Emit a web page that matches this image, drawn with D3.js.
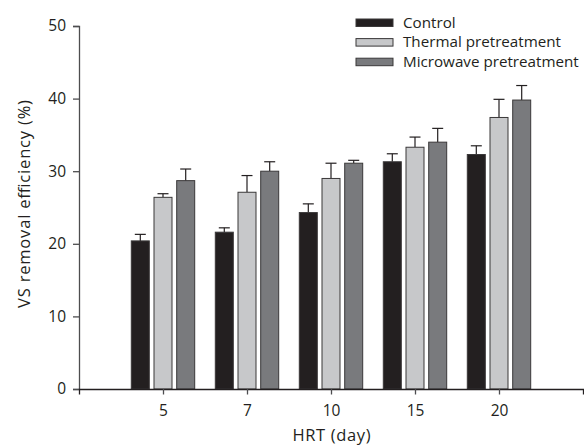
<!DOCTYPE html>
<html>
<head>
<meta charset="utf-8">
<script src="https://cdn.jsdelivr.net/npm/d3@7"></script>
<style>
  body { margin: 0; background: #fff; }
  svg text { font-family: "Open Sans", "Noto Sans", sans-serif; fill: #231f20; }
</style>
</head>
<body>
<svg id="chart" width="584" height="446"></svg>
<script>
// data
const hrt = ["5", "7", "10", "15", "20"];
const series = ["Control", "Thermal pretreatment", "Microwave pretreatment"];
const colors = ["#231f20", "#c7c8ca", "#797a7d"];
const control = [20.4, 21.6, 24.3, 31.3, 32.3];
const thermal = [26.4, 27.1, 29.0, 33.3, 37.4];
const microwave = [28.7, 30.0, 31.1, 34.0, 39.8];
const controlErr = [0.9, 0.6, 1.2, 1.1, 1.2];
const thermalErr = [0.5, 2.3, 2.1, 1.4, 2.5];
const microwaveErr = [1.6, 1.3, 0.4, 1.9, 2.0];
const yTicks = [0, 10, 20, 30, 40, 50];

const values = [control, thermal, microwave];
const errs = [controlErr, thermalErr, microwaveErr];

const svg = d3.select("#chart");
const mLeft = 79, mRight = 583, mTop = 26, mBottom = 389;

const x = d3.scalePoint().domain(hrt).range([mLeft, mRight]).padding(1);
const y = d3.scaleLinear().domain([0, 50]).range([mBottom, mTop]);
const off = d3.scalePoint().domain(series).range([-22.7, 22.7]);
const bw = 18;

// bars
series.forEach((s, si) => {
  const g = svg.append("g");
  const d = hrt.map((h, i) => ({ h, v: values[si][i], e: errs[si][i] }));
  // error bars (upper only)
  g.selectAll("line.err").data(d).enter().append("line")
    .attr("x1", d => x(d.h) + off(s)).attr("x2", d => x(d.h) + off(s))
    .attr("y1", d => y(d.v)).attr("y2", d => y(d.v + d.e))
    .attr("stroke", "#231f20").attr("stroke-width", 1.2);
  g.selectAll("line.cap").data(d).enter().append("line")
    .attr("x1", d => x(d.h) + off(s) - 5.5).attr("x2", d => x(d.h) + off(s) + 5.5)
    .attr("y1", d => y(d.v + d.e)).attr("y2", d => y(d.v + d.e))
    .attr("stroke", "#231f20").attr("stroke-width", 1.2);
  g.selectAll("rect").data(d).enter().append("rect")
    .attr("x", d => x(d.h) + off(s) - bw / 2)
    .attr("y", d => y(d.v))
    .attr("width", bw)
    .attr("height", d => y(0) - y(d.v))
    .attr("fill", colors[si])
    .attr("stroke", "#3a3839").attr("stroke-width", 1);
});

// y axis
const yAxis = svg.append("g").attr("transform", `translate(${mLeft},0)`)
  .call(d3.axisLeft(y).tickValues(yTicks).tickSize(6).tickPadding(7));
yAxis.select(".domain").attr("stroke", "#4d4d4f").attr("stroke-width", 1.3);
yAxis.selectAll(".tick line").attr("stroke", "#4d4d4f").attr("stroke-width", 1.3);
yAxis.selectAll("text").attr("font-size", 15.5).attr("fill", "#231f20");

// x axis
const xAxis = svg.append("g").attr("transform", `translate(0,${mBottom})`)
  .call(d3.axisBottom(x).tickSize(5.5).tickSizeOuter(5.5).tickPadding(10));
xAxis.select(".domain").attr("stroke", "#231f20").attr("stroke-width", 1.3);
xAxis.selectAll(".tick line").attr("stroke", "#4d4d4f").attr("stroke-width", 1.3);
xAxis.selectAll("text").attr("font-size", 15.5).attr("fill", "#231f20");

// axis titles
svg.append("text")
  .attr("transform", "translate(29.5,204) rotate(-90)")
  .attr("text-anchor", "middle")
  .attr("font-size", 16.5)
  .attr("textLength", 208).attr("lengthAdjust", "spacing")
  .text("VS removal efficiency (%)");
svg.append("text")
  .attr("x", 331.5).attr("y", 441)
  .attr("text-anchor", "middle")
  .attr("font-size", 16.5)
  .attr("textLength", 78).attr("lengthAdjust", "spacing")
  .text("HRT (day)");

// legend
const leg = svg.append("g").attr("transform", "translate(356,19)");
series.forEach((s, i) => {
  const r = leg.append("g").attr("transform", `translate(0,${i * 19.6})`);
  r.append("rect").attr("width", 37).attr("height", 7.5)
    .attr("fill", colors[i]).attr("stroke", "#3a3839").attr("stroke-width", 1);
  r.append("text").attr("x", 47).attr("y", 8.8)
    .attr("font-size", 15.2).text(s);
});
</script>
</body>
</html>
